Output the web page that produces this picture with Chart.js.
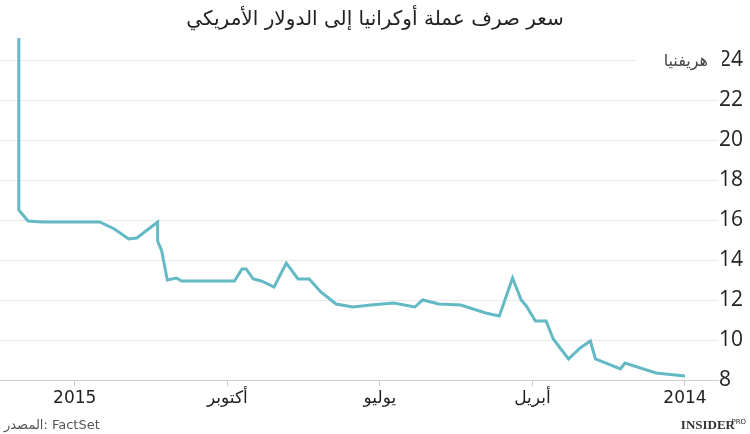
<!DOCTYPE html>
<html><head><meta charset="utf-8">
<script src="https://cdn.jsdelivr.net/npm/chart.js@4"></script>
<style>html,body{margin:0;background:#fff}#wrap{width:750px;height:434px}</style>
</head><body><div id="wrap"><canvas id="c"></canvas></div>
<script>
// months since Jan 2014 (axis runs right to left)
const months = [13.1,13.1,12.92,12.63,11.51,11.22,10.94,10.78,10.37,10.37,10.29,10.18,10.0,9.9,8.86,8.71,8.63,8.49,8.33,8.08,7.84,7.61,7.39,7.16,6.86,6.53,6.18,5.73,5.31,5.16,4.84,4.41,3.92,3.65,3.39,3.22,3.12,2.94,2.73,2.59,2.29,2.06,1.86,1.76,1.27,1.18,0.57,0];
const rates  = [25.1,16.5,15.95,15.9,15.9,15.55,15.05,15.1,15.9,14.95,14.45,13.0,13.1,12.95,12.95,13.55,13.55,13.05,12.95,12.65,13.85,13.05,13.05,12.4,11.8,11.65,11.75,11.85,11.65,12.0,11.8,11.75,11.35,11.2,13.1,12.0,11.7,10.95,10.95,10.05,9.05,9.6,9.95,9.05,8.55,8.85,8.35,8.2];
const tickMonths = [0,3,6,9,12];
const tickLabels = ['2014','أبريل','يوليو','أكتوبر','2015'];
const yTicks = [8,10,12,14,16,18,20,22,24];

const extras = {
  id: 'extras',
  afterDraw(chart) {
    const ctx = chart.ctx;
    ctx.save();
    ctx.fillStyle = '#222';
    ctx.font = '20px "DejaVu Sans"';
    ctx.textAlign = 'center';
    ctx.textBaseline = 'middle';
    ctx.fillText('سعر صرف عملة أوكرانيا إلى الدولار الأمريكي', 375, 20);
    const y24 = chart.scales.y.getPixelForValue(24);
    ctx.fillStyle = '#fff';
    ctx.fillRect(636, y24 - 12, 86, 24);
    ctx.fillStyle = '#444';
    ctx.font = '16px "DejaVu Sans"';
    ctx.textAlign = 'right';
    ctx.fillText('هريفنيا', 708, y24 + 2);
    ctx.font = '13px "DejaVu Sans"';
    ctx.textAlign = 'left';
    ctx.fillStyle = '#555';
    ctx.fillText('المصدر: FactSet', 4, 426);
    ctx.font = 'bold 13px "Liberation Serif"';
    ctx.textAlign = 'right';
    ctx.fillStyle = '#333';
    ctx.fillText('INSIDER', 735, 426);
    ctx.font = '7px "DejaVu Sans"';
    ctx.fillText('PRO', 746, 422);
    ctx.restore();
  }
};

new Chart(document.getElementById('c'), {
  type: 'line',
  data: {
    datasets: [{
      data: months.map((m, i) => ({x: m, y: rates[i]})),
      borderColor: '#63b9c4',
      borderWidth: 3,
      pointRadius: 0,
      tension: 0,
      clip: false
    }]
  },
  options: {
    responsive: true,
    maintainAspectRatio: false,
    animation: false,
    layout: {padding: {top: 60, bottom: 24, left: 0, right: 0}},
    plugins: {legend: {display: false}, tooltip: {enabled: false}},
    scales: {
      x: {
        type: 'linear',
        reverse: true,
        min: -0.65,
        max: 13.47,
        afterBuildTicks: s => { s.ticks = tickMonths.map(v => ({value: v})); },
        afterFit: s => { s.height = 30; },
        ticks: {
          callback: v => tickLabels[tickMonths.indexOf(v)],
          color: '#222',
          font: {family: '"DejaVu Sans"', size: 17},
          maxRotation: 0,
          padding: 2
        },
        grid: {drawOnChartArea: false, tickLength: 6, color: '#ccc'},
        border: {color: '#ccc'}
      },
      y: {
        position: 'right',
        min: 8,
        max: 24,
        afterBuildTicks: s => { s.ticks = yTicks.map(v => ({value: v})); },
        afterFit: s => { s.width = 32; },
        ticks: {
          color: '#222',
          font: {family: '"Open Sans"', size: 21},
          padding: 1
        },
        grid: {color: '#e8e8e8', drawTicks: false},
        border: {display: false}
      }
    }
  },
  plugins: [extras]
});
</script></body></html>
